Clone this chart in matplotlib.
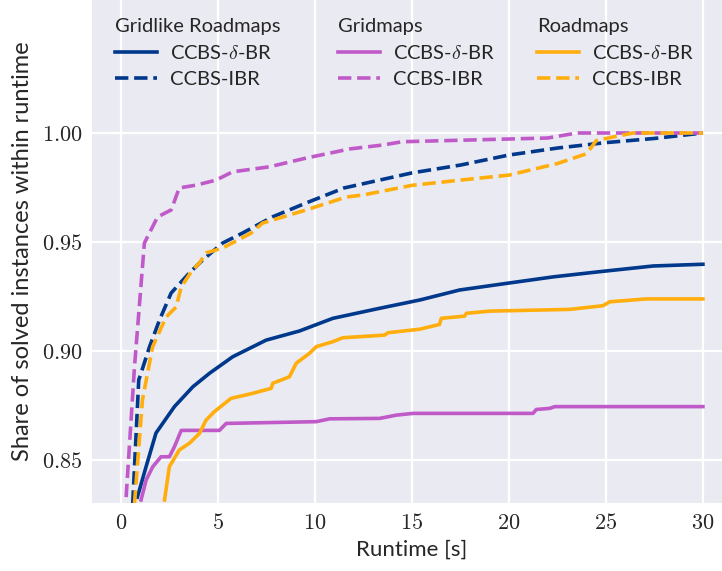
import matplotlib
matplotlib.use("Agg")
import matplotlib.pyplot as plt
from matplotlib.lines import Line2D

# Gridlike Roadmaps
glr_br_x = [0.84, 1.29, 1.8, 2.75, 3.7, 4.56, 5.76, 7.48, 9.2, 10.92, 13.33, 15.4, 17.46, 19.85, 22.27, 24.68, 27.43, 30.0]
glr_br_y = [0.833, 0.847, 0.8624, 0.8745, 0.8836, 0.8898, 0.8974, 0.905, 0.9092, 0.915, 0.9196, 0.9234, 0.928, 0.931, 0.934, 0.9364, 0.939, 0.9398]
glr_ibr_x = [0.6, 0.91, 1.03, 1.46, 1.98, 2.58, 3.52, 4.2, 5.23, 6.26, 7.8, 9.54, 11.5, 15.0, 17.5, 20.0, 22.5, 25.0, 27.5, 30.0]
glr_ibr_y = [0.83, 0.8867, 0.8899, 0.9018, 0.9142, 0.9266, 0.9358, 0.9417, 0.9495, 0.9541, 0.9615, 0.9679, 0.9748, 0.9817, 0.9853, 0.9899, 0.9931, 0.9956, 0.9975, 1.0]

# Gridmaps
grid_br_x = [1.03, 1.29, 1.63, 2.06, 2.49, 2.75, 3.1, 5.07, 5.42, 10.06, 10.75, 13.33, 14.19, 15.05, 21.24, 21.41, 22.1, 22.36, 30.0]
grid_br_y = [0.8317, 0.8408, 0.8469, 0.8515, 0.8515, 0.8561, 0.8636, 0.8636, 0.8668, 0.8676, 0.8689, 0.8691, 0.8706, 0.8714, 0.8714, 0.8732, 0.8737, 0.8745, 0.8745]
grid_ibr_x = [0.26, 0.69, 1.2, 1.46, 1.88, 2.58, 3.0, 3.87, 4.9, 5.75, 7.65, 9.54, 11.8, 13.5, 14.5, 22.0, 23.5, 30.0]
grid_ibr_y = [0.833, 0.8927, 0.9495, 0.9541, 0.9615, 0.9647, 0.9748, 0.9761, 0.9784, 0.9822, 0.9845, 0.9885, 0.9927, 0.9945, 0.996, 0.9977, 1.0, 1.0]

# Roadmaps
road_br_x = [2.24, 2.49, 3.0, 3.52, 4.04, 4.38, 4.81, 5.67, 6.79, 7.74, 7.82, 8.68, 9.03, 9.72, 10.06, 10.92, 11.43, 13.59, 13.76, 15.39, 16.42, 16.51, 17.71, 17.8, 19.0, 23.13, 24.85, 25.2, 27.09, 30.0]
road_br_y = [0.8317, 0.847, 0.8546, 0.8577, 0.8622, 0.8683, 0.8722, 0.8783, 0.8806, 0.8829, 0.8852, 0.8882, 0.8944, 0.899, 0.902, 0.9043, 0.9061, 0.9073, 0.9084, 0.91, 0.9122, 0.915, 0.916, 0.9173, 0.9183, 0.9191, 0.9208, 0.9226, 0.9239, 0.9239]
road_ibr_x = [0.69, 1.1, 1.62, 2.32, 2.84, 3.1, 3.68, 4.04, 4.38, 5.23, 6.7, 7.3, 9.54, 11.6, 12.5, 15.0, 17.5, 20.0, 22.5, 24.0, 24.5, 25.0, 26.4, 30.0]
road_ibr_y = [0.83, 0.8775, 0.9018, 0.9156, 0.9202, 0.9294, 0.9372, 0.9404, 0.945, 0.9472, 0.9541, 0.9587, 0.9647, 0.9706, 0.9716, 0.976, 0.9784, 0.9807, 0.986, 0.9905, 0.9965, 0.9975, 1.0, 1.0]

navy = "#00388c"
orchid = "#c05ac8"
amber = "#ffae0d"

plt.rcParams["mathtext.fontset"] = "cm"
plt.rcParams["font.family"] = ["Lato", "DejaVu Sans"]
plt.rcParams["text.color"] = "#262626"
plt.rcParams["axes.labelcolor"] = "#262626"

fig = plt.figure(figsize=(7.22, 5.71), dpi=100)
ax = fig.add_axes([92 / 722, 68 / 571, 640 / 722, 503 / 571])
ax.set_facecolor("#eaeaf2")
for s in ax.spines.values():
    s.set_visible(False)
ax.grid(True, color="white", lw=1.6)
ax.set_axisbelow(True)
ax.tick_params(length=0, pad=7, labelcolor="#262626")

lw = 2.6
ax.plot(glr_br_x, glr_br_y, color=navy, lw=lw)
ax.plot(glr_ibr_x, glr_ibr_y, color=navy, lw=lw, ls="--")
ax.plot(grid_br_x, grid_br_y, color=orchid, lw=lw)
ax.plot(grid_ibr_x, grid_ibr_y, color=orchid, lw=lw, ls="--")
ax.plot(road_br_x, road_br_y, color=amber, lw=lw)
ax.plot(road_ibr_x, road_ibr_y, color=amber, lw=lw, ls="--")

ax.set_xlim(-1.5, 31.5)
ax.set_ylim(0.8303, 1.061)
xt = [0, 5, 10, 15, 20, 25, 30]
yt = [0.85, 0.90, 0.95, 1.00]
ax.set_xticks(xt)
ax.set_xticklabels([f"${v}$" for v in xt], fontsize=16)
ax.set_yticks(yt)
ax.set_yticklabels([f"${v:.2f}$" for v in yt], fontsize=16)
ax.set_xlabel("Runtime [s]", fontsize=16, labelpad=5)
ax.set_ylabel("Share of solved instances within runtime", fontsize=17, labelpad=6)

groups = [("Gridlike Roadmaps", navy, 115), ("Gridmaps", orchid, 338), ("Roadmaps", amber, 537)]
for title, c, px in groups:
    handles = [Line2D([], [], color=c, lw=lw), Line2D([], [], color=c, lw=lw, ls="--")]
    fig.legend(handles, ["CCBS-$\\delta$-BR", "CCBS-IBR"], title=title,
               loc="upper left", bbox_to_anchor=(px / 722, 1 - 18 / 571),
               frameon=False, fontsize=14.5, title_fontsize=14.5,
               alignment="left", borderpad=0, borderaxespad=0,
               handlelength=2.1, handletextpad=0.65, labelspacing=0.45)

fig.savefig("out.png", dpi=100)
